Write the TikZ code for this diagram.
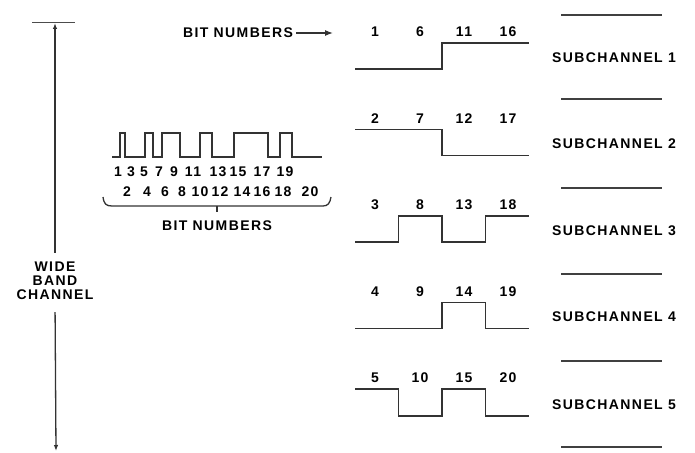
\documentclass[tikz,border=0pt]{standalone}
\usepackage{fontspec}
\setmainfont{Liberation Sans}
\newfontfamily\lblfont[LetterSpace=10]{Liberation Sans}
\usetikzlibrary{arrows.meta}
\begin{document}
\begin{tikzpicture}[x=1pt,y=-1pt,
  lbl/.style={font=\lblfont\bfseries\fontsize{14}{14}\selectfont, inner sep=0pt, text=black},
  dig/.style={font=\lblfont\bfseries\fontsize{14}{14}\selectfont, inner sep=0pt, text=black},
  wave/.style={line width=1.8pt, draw=black!80, line join=miter},
  lwave/.style={line width=1.4pt, draw=black!80, line join=miter},
  sep/.style={line width=1.4pt, draw=black!75},
  conn/.style={line width=1.3pt, draw=black!80},
  tip/.style={-{Latex[length=6pt,width=4.5pt]}},
  bigtip/.style={-{Latex[length=8pt,width=6pt]}}
]
\useasboundingbox (0,0) rectangle (695,452);

% ---- wide band channel
\draw[line width=1pt, draw=black!70] (32,23) -- (75,23);
\coordinate (topc) at (55,23);
\coordinate (botc) at (56,451);
\node[lbl, align=center] (wbc) at (55,281) {WIDE\\BAND\\CHANNEL};
\draw[conn, tip, shorten <=9pt] (wbc.north) -- (topc);
\draw[conn, tip, shorten <=12pt] (wbc.south) -- (botc);

% ---- composite waveform
\draw[lwave] (112,157) -- (120,157) -- (120,133) -- (125,133) -- (125,157)
  -- (145,157) -- (145,133) -- (153,133) -- (153,157)
  -- (162,157) -- (162,133) -- (180,133) -- (180,157)
  -- (200,157) -- (200,133) -- (212,133) -- (212,157)
  -- (234,157) -- (234,133) -- (268,133) -- (268,157)
  -- (280,157) -- (280,133) -- (292,133) -- (292,157) -- (322,157);
\foreach \n/\x in {1/118,3/131,5/144,7/159,9/174,11/193,13/218,15/238,17/262,19/285}
  \node[dig] (b\n) at (\x,172) {\n};
\foreach \n/\x in {2/127,4/147,6/165,8/182,10/200,12/220,14/242,16/262,18/283,20/310}
  \node[dig] (b\n) at (\x,192) {\n};
\draw[conn] (103,197) .. controls (104,204) and (106,206) .. (112,206) -- (323,206)
  .. controls (328,206) and (330,203) .. (331,197);
\draw[conn] (217,206) -- (217,212);
\node[lbl] (bn2) at (217,226) {BIT NUMBERS};

% ---- top bit numbers arrow
\node[lbl] (bn) at (238,33) {BIT NUMBERS};
\coordinate (bntip) at (333,33);
\draw[conn, bigtip, shorten <=3pt] (bn.east) -- (bntip);

% ---- subchannel waveforms
% ch1
\def\H{43}\def\L{69}
\draw[wave] (355,\L) -- (442,\L) -- (442,\H) -- (529,\H);
% ch2
\def\H{129.5}\def\L{155.5}
\draw[wave] (355,\H) -- (442,\H) -- (442,\L) -- (529,\L);
% ch3
\def\H{216}\def\L{242}
\draw[wave] (355,\L) -- (398.5,\L) -- (398.5,\H) -- (442,\H) -- (442,\L) -- (485.5,\L) -- (485.5,\H) -- (529,\H);
% ch4
\def\H{302.5}\def\L{328.5}
\draw[wave] (355,\L) -- (442,\L) -- (442,\H) -- (485.5,\H) -- (485.5,\L) -- (529,\L);
% ch5
\def\H{389}\def\L{416}
\draw[wave] (355,\H) -- (398.5,\H) -- (398.5,\L) -- (442,\L) -- (442,\H) -- (485.5,\H) -- (485.5,\L) -- (529,\L);

\foreach \r/\y/\a/\b/\c/\d in {1/32/1/6/11/16, 2/118.5/2/7/12/17, 3/205/3/8/13/18, 4/291.5/4/9/14/19, 5/378/5/10/15/20}{
  \node[dig] (s\r a) at (375,\y) {\a};
  \node[dig] (s\r b) at (420,\y) {\b};
  \node[dig] (s\r c) at (464,\y) {\c};
  \node[dig] (s\r d) at (508,\y) {\d};
}

% ---- separators and subchannel labels
\foreach \y in {15,99,188,274,361,447}
  \draw[sep] (561,\y) -- (662,\y);
\foreach \k/\y in {1/58,2/144,3/231,4/317,5/405}
  \node[lbl, anchor=west] (sc\k) at (552,\y) {SUBCHANNEL \k};
\end{tikzpicture}
\end{document}
